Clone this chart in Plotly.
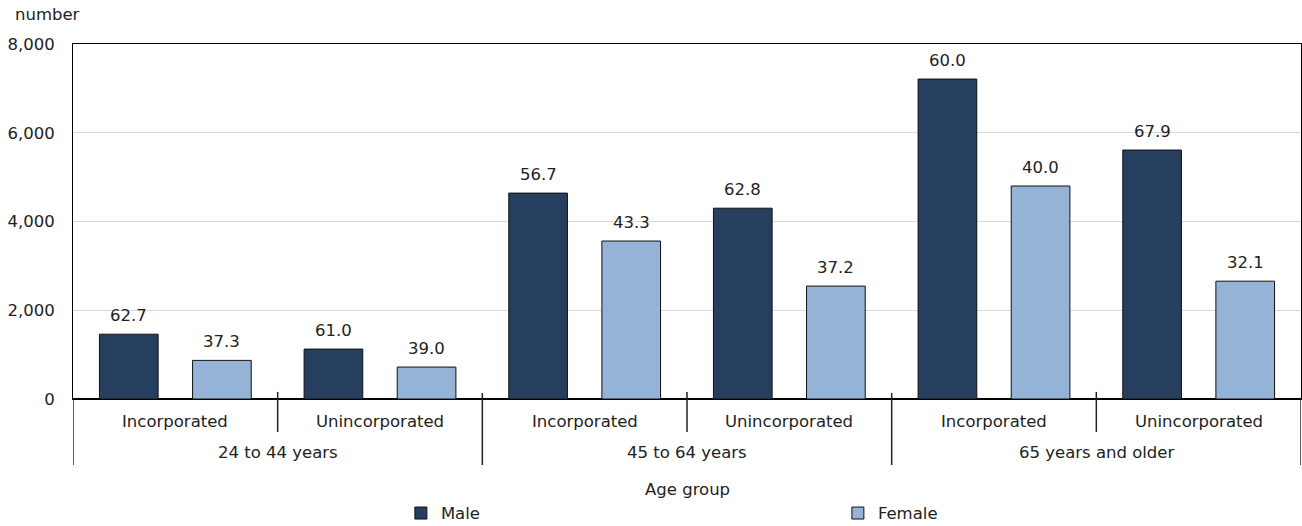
import plotly.graph_objects as go

# Self-employed workers by age group, business type and sex
age_groups = ["24 to 44 years", "45 to 64 years", "65 years and older"]
business_types = ["Incorporated", "Unincorporated"]

male_counts = [1460, 1125, 4640, 4300, 7210, 5610]
female_counts = [870, 720, 3560, 2545, 4800, 2655]
male_share = [62.7, 61.0, 56.7, 62.8, 60.0, 67.9]
female_share = [37.3, 39.0, 43.3, 37.2, 40.0, 32.1]

y_ticks = [0, 2000, 4000, 6000, 8000]

MALE_COLOR = "#263f5f"
FEMALE_COLOR = "#95b3d7"
TEXT_COLOR = "#222222"
FONT = "DejaVu Sans, Verdana, sans-serif"
FS = 16.5

BARGAP = 0.09
BARGROUPGAP = 0.37

# one slot per (age group, business type) pair
slots = [(g, b) for g in age_groups for b in business_types]
xpos = list(range(len(slots)))

fig = go.Figure()
fig.add_bar(x=xpos, y=male_counts, name="Male",
            marker=dict(color=MALE_COLOR, line=dict(color="#111111", width=1)))
fig.add_bar(x=xpos, y=female_counts, name="Female",
            marker=dict(color=FEMALE_COLOR, line=dict(color="#111111", width=1)))

annotations = []
# share labels above each bar
half = (1 - BARGAP) / 4
for i in xpos:
    for val, share, off in ((male_counts[i], male_share[i], -half),
                            (female_counts[i], female_share[i], half)):
        annotations.append(dict(x=i + off, y=val, xref="x", yref="y",
                                text=f"{share:.1f}", showarrow=False,
                                yanchor="bottom", yshift=7,
                                font=dict(size=FS, color=TEXT_COLOR)))

# category labels under the axis
for i, (g, b) in enumerate(slots):
    annotations.append(dict(x=i, y=-0.062, xref="x", yref="paper", text=b,
                            showarrow=False, yanchor="middle",
                            font=dict(size=FS, color=TEXT_COLOR)))
for j, g in enumerate(age_groups):
    annotations.append(dict(x=2 * j + 0.5, y=-0.152, xref="x", yref="paper", text=g,
                            showarrow=False, yanchor="middle",
                            font=dict(size=FS, color=TEXT_COLOR)))

annotations.append(dict(x=0.5, y=-0.254, xref="paper", yref="paper", text="Age group",
                        showarrow=False, yanchor="middle",
                        font=dict(size=FS, color=TEXT_COLOR)))
annotations.append(dict(x=-0.049, y=1.082, xref="paper", yref="paper", text="number",
                        showarrow=False, xanchor="left", yanchor="middle",
                        font=dict(size=FS, color=TEXT_COLOR)))

# dividers between business types and between age groups
shapes = []
for j in range(len(age_groups)):
    xi = 2 * j + 0.5
    shapes.append(dict(type="line", xref="x", yref="paper", x0=xi, x1=xi,
                       y0=0.02, y1=-0.093, line=dict(color="#222222", width=1.5)))
for k in range(len(age_groups) + 1):
    xo = 2 * k - 0.5
    top = 0.017 if 0 < k < len(age_groups) else 0
    shapes.append(dict(type="line", xref="x", yref="paper", x0=xo, x1=xo,
                       y0=top, y1=-0.186, line=dict(color="#222222", width=1.5)))

fig.update_layout(
    width=1302, height=526,
    margin=dict(l=73, r=1, t=44, b=127, autoexpand=False),
    paper_bgcolor="white", plot_bgcolor="white",
    font=dict(family=FONT, size=FS, color=TEXT_COLOR),
    barmode="group", bargap=BARGAP, bargroupgap=BARGROUPGAP,
    showlegend=True,
    legend=dict(orientation="h", x=0.267, xanchor="left", y=-0.322, yanchor="middle",
                entrywidth=392, entrywidthmode="pixels",
                font=dict(size=FS, color=TEXT_COLOR), bgcolor="rgba(0,0,0,0)",
                itemclick=False),
    annotations=annotations,
    shapes=shapes,
)
fig.update_xaxes(range=[-0.5, len(slots) - 0.5], showticklabels=False, ticks="",
                 showgrid=False, zeroline=False, showline=True, mirror=True,
                 linecolor="black", linewidth=1)
fig.update_yaxes(range=[0, 8000], tickvals=y_ticks, tickformat=",", ticks="",
                 ticklabelstandoff=14, showgrid=True, gridcolor="#d9d9d9", gridwidth=1,
                 zeroline=True, zerolinecolor="black", zerolinewidth=2,
                 showline=True, mirror=True, linecolor="black", linewidth=1,
                 tickfont=dict(size=FS, color=TEXT_COLOR))

fig.write_html("out.html")
